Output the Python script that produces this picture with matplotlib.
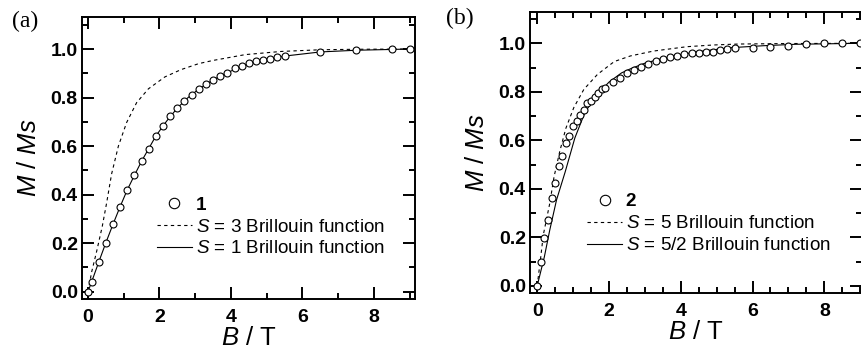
import matplotlib
matplotlib.use("Agg")
from matplotlib import pyplot as plt
from matplotlib.ticker import MultipleLocator
from matplotlib.lines import Line2D

plt.rcParams['font.family'] = ['Liberation Sans', 'DejaVu Sans']
plt.rcParams['mathtext.fontset'] = 'custom'
plt.rcParams['mathtext.it'] = 'Liberation Sans:italic'
plt.rcParams['mathtext.rm'] = 'Liberation Sans'
plt.rcParams['mathtext.bf'] = 'Liberation Sans:bold'

# panel (a): compound 1
a_x = [0, 0.1, 0.3, 0.5, 0.7, 0.9, 1.1, 1.3, 1.5, 1.7, 1.9, 2.1, 2.3, 2.5, 2.7, 2.9,
       3.1, 3.3, 3.5, 3.7, 3.9, 4.1, 4.3, 4.5, 4.7, 4.9, 5.1, 5.3, 5.5, 6.5, 7.5, 8.5, 9.0]
a_y = [0.0, 0.04, 0.122, 0.202, 0.278, 0.351, 0.42, 0.48, 0.538, 0.59, 0.642, 0.683,
       0.723, 0.757, 0.786, 0.812, 0.835, 0.857, 0.873, 0.888, 0.903, 0.92, 0.93, 0.942,
       0.949, 0.955, 0.96, 0.966, 0.971, 0.988, 0.995, 0.999, 1.0]
a_s3_x = [0, 0.1, 0.24, 0.4, 0.52, 0.66, 0.85, 1.08, 1.36, 1.69, 2.15, 2.6, 3.1, 3.5,
          4.4, 5.4, 6.5, 7.5, 9.0]
a_s3_y = [0, 0.08, 0.165, 0.27, 0.365, 0.485, 0.6, 0.697, 0.779, 0.836, 0.885, 0.915,
          0.94, 0.953, 0.977, 0.99, 0.997, 0.999, 1.0]
a_s1_x = [0, 0.1, 0.3, 0.5, 0.7, 0.9, 1.1, 1.3, 1.5, 1.7, 1.9, 2.2, 2.5, 2.8, 3.1, 3.5,
          3.9, 4.5, 5.5, 6.5, 7.5, 9.0]
a_s1_y = [0, 0.04, 0.122, 0.202, 0.278, 0.351, 0.42, 0.48, 0.538, 0.59, 0.642, 0.703,
          0.757, 0.8, 0.835, 0.873, 0.903, 0.94, 0.971, 0.988, 0.995, 1.0]

# panel (b): compound 2
b_x = [0, 0.1, 0.2, 0.3, 0.4, 0.5, 0.6, 0.7, 0.8, 0.9, 1.0, 1.1, 1.2, 1.3, 1.4, 1.5,
       1.6, 1.7, 1.8, 1.9, 2.1, 2.3, 2.5, 2.7, 2.9, 3.1, 3.3, 3.5, 3.7, 3.9, 4.1, 4.3,
       4.5, 4.7, 4.9, 5.1, 5.3, 5.5, 6.0, 6.5, 7.0, 7.5, 8.0, 8.5, 9.0]
b_y = [0.0, 0.098, 0.196, 0.272, 0.361, 0.423, 0.495, 0.536, 0.59, 0.618, 0.659, 0.681,
       0.705, 0.725, 0.755, 0.764, 0.78, 0.794, 0.81, 0.817, 0.842, 0.856, 0.876, 0.89,
       0.904, 0.915, 0.927, 0.934, 0.942, 0.948, 0.955, 0.959, 0.962, 0.963, 0.966,
       0.973, 0.975, 0.979, 0.982, 0.986, 0.99, 0.996, 1.0, 1.0, 1.0]
b_s5_x = [0, 0.1, 0.17, 0.35, 0.47, 0.63, 0.8, 1.02, 1.3, 1.68, 2.15, 2.6, 3.24, 4.17,
          4.9, 5.6, 7.0, 9.0]
b_s5_y = [0, 0.12, 0.21, 0.34, 0.45, 0.555, 0.65, 0.735, 0.81, 0.872, 0.925, 0.948,
          0.968, 0.986, 0.993, 0.997, 0.999, 1.0]
b_s52_x = [0, 0.1, 0.2, 0.35, 0.54, 0.78, 1.05, 1.33, 1.63, 2.0, 2.35, 2.6, 3.0, 3.5,
           4.0, 4.5, 5.4, 6.3, 7.2, 9.0]
b_s52_y = [0, 0.06, 0.12, 0.23, 0.355, 0.47, 0.61, 0.715, 0.782, 0.84, 0.878, 0.895,
           0.918, 0.938, 0.953, 0.966, 0.982, 0.99, 0.996, 1.0]


def style_axes(ax, xlim, ylim, xminor):
    ax.set_xlim(*xlim)
    ax.set_ylim(*ylim)
    ax.xaxis.set_major_locator(MultipleLocator(2))
    ax.xaxis.set_minor_locator(MultipleLocator(xminor))
    ax.yaxis.set_major_locator(MultipleLocator(0.2))
    ax.yaxis.set_minor_locator(MultipleLocator(0.1))
    ax.tick_params(which='both', direction='in', top=True, right=True, width=1.4)
    ax.tick_params(which='major', length=8.5)
    ax.tick_params(which='minor', length=4.3)
    ax.tick_params(axis='x', pad=7)
    ax.tick_params(axis='y', pad=3)
    ax.yaxis.set_major_formatter(matplotlib.ticker.FormatStrFormatter('%.1f'))
    ax.xaxis.set_major_formatter(matplotlib.ticker.FormatStrFormatter('%d'))
    for lab in ax.get_xticklabels() + ax.get_yticklabels():
        lab.set_fontweight('bold')
        lab.set_fontsize(14)
    for sp in ax.spines.values():
        sp.set_linewidth(1.4)
    ax.set_xlabel(r'$B$ / T', fontsize=18.5, labelpad=0)
    ax.set_ylabel(r'$M$ / $Ms$', fontsize=18.5, labelpad=7)


def draw_panel(ax, px, py, dx, dy, sx, sy, num, dlab, slab):
    ax.plot(dx, dy, color='black', lw=0.8, ls=(0, (3, 3)))
    ax.plot(sx, sy, color='black', lw=0.8)
    ax.plot(px, py, ls='none', marker='o', ms=5, mfc='white', mec='black', mew=0.8)
    handles = [Line2D([], [], ls='none', marker='o', ms=7.5, mfc='white', mec='black', mew=0.8),
               Line2D([], [], color='black', lw=0.8, ls=(0, (3, 3))),
               Line2D([], [], color='black', lw=0.8)]
    leg = ax.legend(handles, [num, dlab, slab], frameon=False, fontsize=13.6,
                    handlelength=1.85, handletextpad=0.2, labelspacing=0.25,
                    borderpad=0, borderaxespad=0)
    leg.get_texts()[0].set_fontweight('bold')
    return leg


fig = plt.figure(figsize=(8.61, 3.56), dpi=100)

ax1 = fig.add_axes([82 / 861, 57 / 356, 333 / 861, 282 / 356])
leg = draw_panel(ax1, a_x, a_y, a_s3_x, a_s3_y, a_s1_x, a_s1_y, '1',
                 r'$S$ = 3 Brillouin function', r'$S$ = 1 Brillouin function')
leg.set_bbox_to_anchor((0.225, 0.364), transform=ax1.transAxes)
leg._loc = 2
style_axes(ax1, (-0.168, 9.15), (-0.03, 1.132), 1)

ax2 = fig.add_axes([530 / 861, 63 / 356, 332 / 861, 281 / 356])
leg = draw_panel(ax2, b_x, b_y, b_s5_x, b_s5_y, b_s52_x, b_s52_y, '2',
                 r'$S$ = 5 Brillouin function', r'$S$ = 5/2 Brillouin function')
leg.set_bbox_to_anchor((0.172, 0.355), transform=ax2.transAxes)
leg._loc = 2
style_axes(ax2, (-0.2, 9.05), (-0.029, 1.129), 0.5)

fig.text(12 / 861, 1 - 27 / 356, '(a)', family='Liberation Serif', fontsize=17, va='baseline')
fig.text(446 / 861, 1 - 24 / 356, '(b)', family='Liberation Serif', fontsize=17, va='baseline')

fig.savefig('out.png', dpi=100)
